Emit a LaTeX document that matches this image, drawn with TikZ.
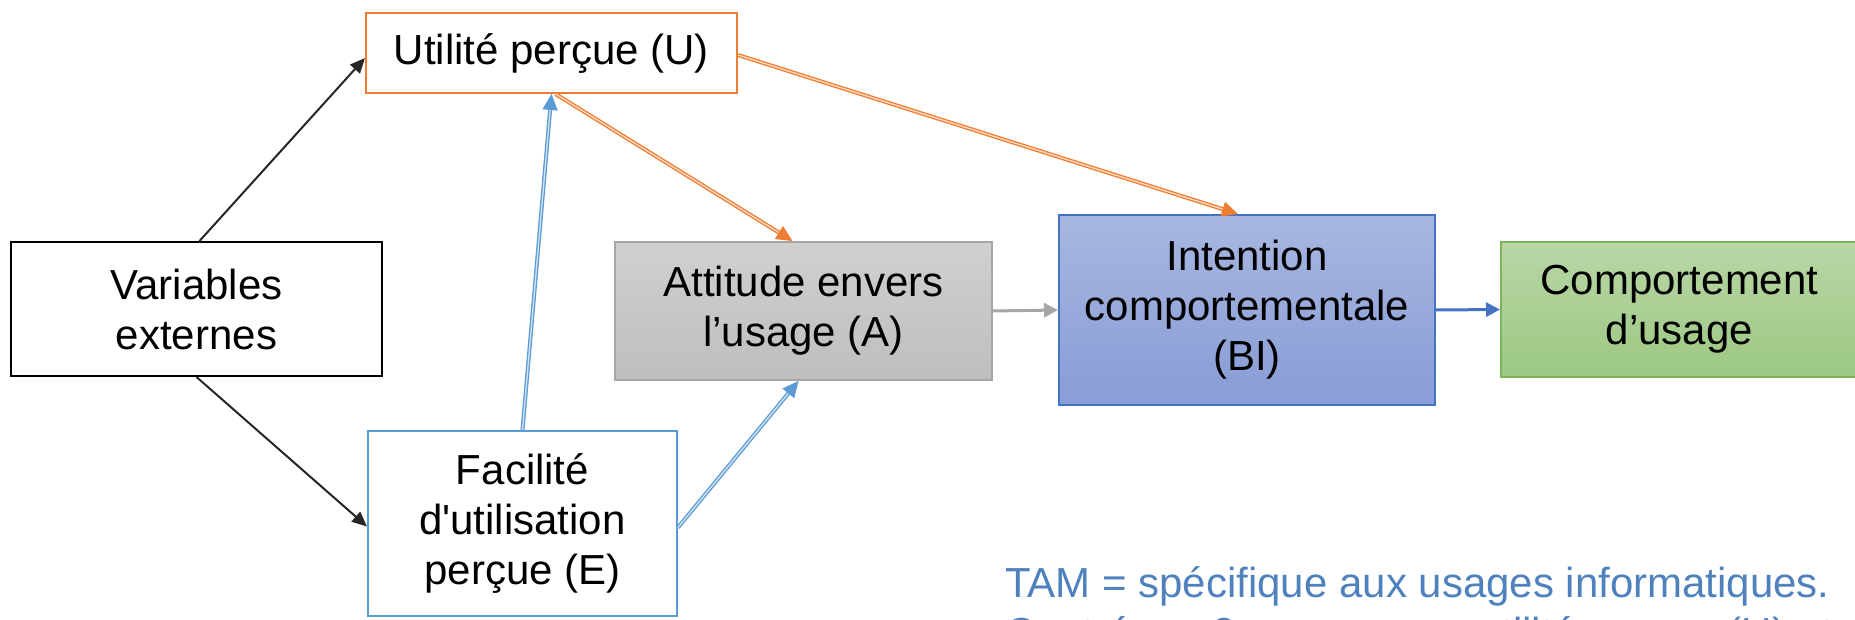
\documentclass[tikz,border=0pt]{standalone}
\usepackage{fontspec}
\setmainfont{Liberation Sans}
\usetikzlibrary{arrows.meta,calc}
\definecolor{uorange}{HTML}{ED7D31}
\definecolor{eblue}{HTML}{5B9BD5}
\definecolor{bblue}{HTML}{4472C4}
\definecolor{intTop}{HTML}{A8B7E0}
\definecolor{intBot}{HTML}{889CD6}
\definecolor{comTop}{HTML}{B9D6A6}
\definecolor{comBot}{HTML}{9CC882}
\definecolor{comBorder}{HTML}{7DB359}
\definecolor{attTop}{HTML}{D0D0D0}
\definecolor{attBot}{HTML}{BEBEBE}
\definecolor{attBorder}{HTML}{A6A6A6}
\definecolor{tamblue}{HTML}{4F81BD}
\begin{document}
\begin{tikzpicture}[x=1pt,y=-1pt,
  box/.style={rectangle, line width=2pt, align=center, inner sep=0pt,
    font=\fontsize{42}{50}\selectfont, text=black},
  blackarrow/.style={draw=black!85, line width=2pt, -{Triangle[length=15pt,width=13pt]}},
  orangearrow/.style={draw=uorange, line width=1.3pt, double=uorange!30, double distance=1.4pt, -{Triangle[length=16pt,width=15pt]}},
  lbluearrow/.style={draw=eblue, line width=1.3pt, double=eblue!30, double distance=1.4pt, -{Triangle[length=16pt,width=15pt]}},
  grayarrow/.style={draw=attBorder, line width=3pt, -{Triangle[length=14pt,width=14pt]}},
  bluearrow/.style={draw=bblue, line width=3pt, -{Triangle[length=14pt,width=14pt]}},
  tamtext/.style={anchor=base west, inner sep=0pt, text=tamblue, font=\fontsize{42}{50}\selectfont}
]
\useasboundingbox (0,0) rectangle (1855,620);
\clip (0,0) rectangle (1855,620);

\node[box, draw=black, minimum width=371pt, minimum height=134pt] (var) at (196.5,309) {Variables\\externes};
\node[box, draw=uorange, minimum width=371pt, minimum height=80pt] (util) at (551.5,53) {Utilité perçue (U)};
\node[box, draw=attBorder, top color=attTop, bottom color=attBot, minimum width=377pt, minimum height=138pt] (att) at (803.5,311) {Attitude envers\\l’usage (A)};
\node[box, draw=bblue, top color=intTop, bottom color=intBot, minimum width=376pt, minimum height=190pt] (int) at (1247,310) {Intention\\comportementale\\(BI)};
\node[box, draw=comBorder, top color=comTop, bottom color=comBot, minimum width=357pt, minimum height=135pt] (com) at (1679.5,309.5) {Comportement\\d’usage};
\node[box, draw=eblue, minimum width=309pt, minimum height=185pt] (fac) at (522.5,523.5) {Facilité\\d\textquotesingle utilisation\\perçue (E)};

\draw[blackarrow] ([xshift=3pt]var.north) -- ([yshift=-5pt]util.west);
\draw[blackarrow] (var.south) -- ([yshift=-3pt]fac.west);
\draw[lbluearrow] (fac.north) -- (util.south);
\draw[orangearrow] ([xshift=4pt]util.south) -- ([xshift=-11pt]att.north);
\draw[orangearrow] ([yshift=-2pt]util.east) -- ([xshift=-9pt]int.north);
\draw[lbluearrow] ([yshift=-4pt]fac.east) -- ([xshift=-5pt]att.south);
\draw[grayarrow] (att.east) -- (int.west);
\draw[bluearrow] (int.east) -- (com.west);

\node[tamtext] (tam1) at (1005,597) {TAM = spécifique aux usages informatiques.};
\node[tamtext] (tam2) at (1005,647) {Centré sur 2 croyances : utilité perçue (U) et};
\end{tikzpicture}
\end{document}
